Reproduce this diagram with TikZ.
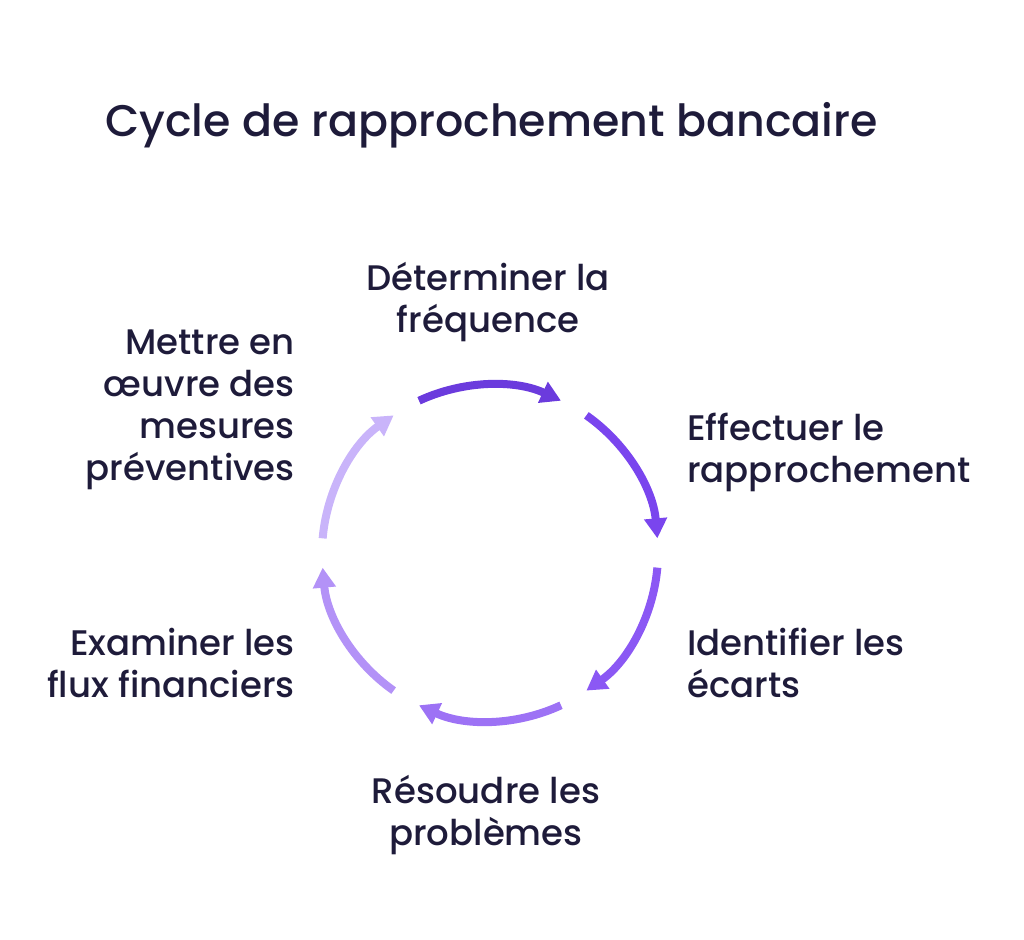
\documentclass[tikz,border=0pt]{standalone}
\usepackage{fontspec}
\setmainfont{Poppins Medium}
\usetikzlibrary{arrows.meta,positioning,calc}
\definecolor{ink}{HTML}{1E1B3A}
\definecolor{arcA}{HTML}{6B3BDD}
\definecolor{arcB}{HTML}{7A45EE}
\definecolor{arcC}{HTML}{8B58F4}
\definecolor{arcD}{HTML}{9D72F5}
\definecolor{arcE}{HTML}{B392F7}
\definecolor{arcF}{HTML}{C9B4FA}
\begin{document}
\begin{tikzpicture}[x=1pt,y=1pt,
  lbl/.style={text=ink,font=\fontsize{35.5}{42}\selectfont,inner sep=0pt},
  step arc/.style={line width=8pt,-{Triangle[length=20pt,width=22pt]}}]
  \useasboundingbox (0,0) rectangle (1024,939);
  \coordinate (c) at (490,386);
  \node[lbl,anchor=west,font=\fontsize{44.3}{48}\selectfont] (title) at (105,814) {Cycle de rapprochement bancaire};

  \foreach \a/\col in {115/arcA,55/arcB,-5/arcC,-65/arcD,-125/arcE,175/arcF}
    \draw[step arc,draw=\col] ($(c)+(\a:168)$) arc[start angle=\a,end angle=\a-50,radius=168];

  \node[lbl,align=center] (freq) at (488,637) {Déterminer la\\fréquence};
  \node[lbl,align=left,anchor=west] (rapp) at (687,487) {Effectuer le\\rapprochement};
  \node[lbl,align=left,anchor=west] (ecart) at (687,276) {Identifier les\\écarts};
  \node[lbl,align=center] (prob) at (486,124) {Résoudre les\\problèmes};
  \node[lbl,align=right,anchor=east] (flux) at (295,276) {Examiner les\\flux financiers};
  \node[lbl,align=right,anchor=east] (prev) at (295,529) {Mettre en\\œuvre des\\mesures\\préventives};
\end{tikzpicture}
\end{document}
